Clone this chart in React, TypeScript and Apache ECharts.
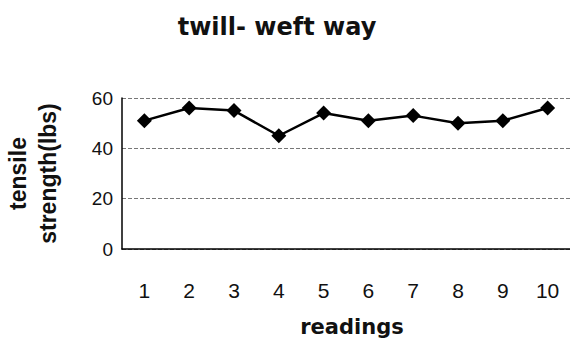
import React, { useEffect, useRef } from "react";
import * as echarts from "echarts";

const categories = ["1", "2", "3", "4", "5", "6", "7", "8", "9", "10"];
const tensileStrength = [51, 56, 55, 45, 54, 51, 53, 50, 51, 56];
const yTicks = { min: 0, max: 60, interval: 20 };
const titleText = "twill- weft way";
const xName = "readings";
const yName = "tensile\nstrength(lbs)";

export default function App() {
  const ref = useRef<HTMLDivElement>(null);
  useEffect(() => {
    if (!ref.current) return;
    const chart = echarts.init(ref.current, null, { renderer: "svg" });
    chart.setOption({
      animation: false,
      backgroundColor: "#ffffff",
      title: {
        text: titleText,
        left: 272,
        textAlign: "center",
        top: 10,
        textStyle: {
          fontFamily: "DejaVu Sans",
          fontWeight: "bold",
          fontSize: 24,
          color: "#111",
        },
      },
      grid: {
        left: 122,
        right: 0,
        top: 98,
        bottom: 97,
        containLabel: false,
        outerBoundsMode: "none",
      },
      xAxis: {
        type: "category",
        data: categories,
        boundaryGap: true,
        name: xName,
        nameLocation: "middle",
        nameGap: 67,
        nameTextStyle: {
          fontFamily: "DejaVu Sans",
          fontWeight: "bold",
          fontSize: 21,
          color: "#111",
          verticalAlign: "top",
          padding: [0, 0, 0, 12],
        },
        axisLine: { show: true, lineStyle: { color: "#000", width: 1.5 } },
        axisTick: { show: false },
        axisLabel: {
          margin: 31,
          fontFamily: "Liberation Sans",
          fontSize: 21,
          color: "#111",
        },
        splitLine: { show: false },
      },
      yAxis: {
        type: "value",
        min: yTicks.min,
        max: yTicks.max,
        interval: yTicks.interval,
        name: yName,
        nameLocation: "middle",
        nameRotate: 90,
        nameGap: 59,
        nameTextStyle: {
          fontFamily: "Liberation Sans",
          fontWeight: "bold",
          fontSize: 23,
          lineHeight: 30,
          color: "#111",
        },
        axisLine: { show: true, lineStyle: { color: "#000", width: 1.5 } },
        axisTick: { show: false },
        axisLabel: {
          margin: 9,
          fontFamily: "Liberation Sans",
          fontSize: 19,
          color: "#111",
        },
        splitLine: {
          show: true,
          lineStyle: { color: "#777", type: "dashed", width: 1 },
        },
      },
      series: [
        {
          type: "line",
          data: tensileStrength,
          symbol: "diamond",
          symbolSize: 15,
          itemStyle: { color: "#000" },
          lineStyle: { color: "#000", width: 2.5 },
        },
      ],
    });
    return () => chart.dispose();
  }, []);
  return (
    <div
      ref={ref}
      style={{ position: "fixed", left: 0, top: 0, width: 570, height: 346 }}
    />
  );
}
